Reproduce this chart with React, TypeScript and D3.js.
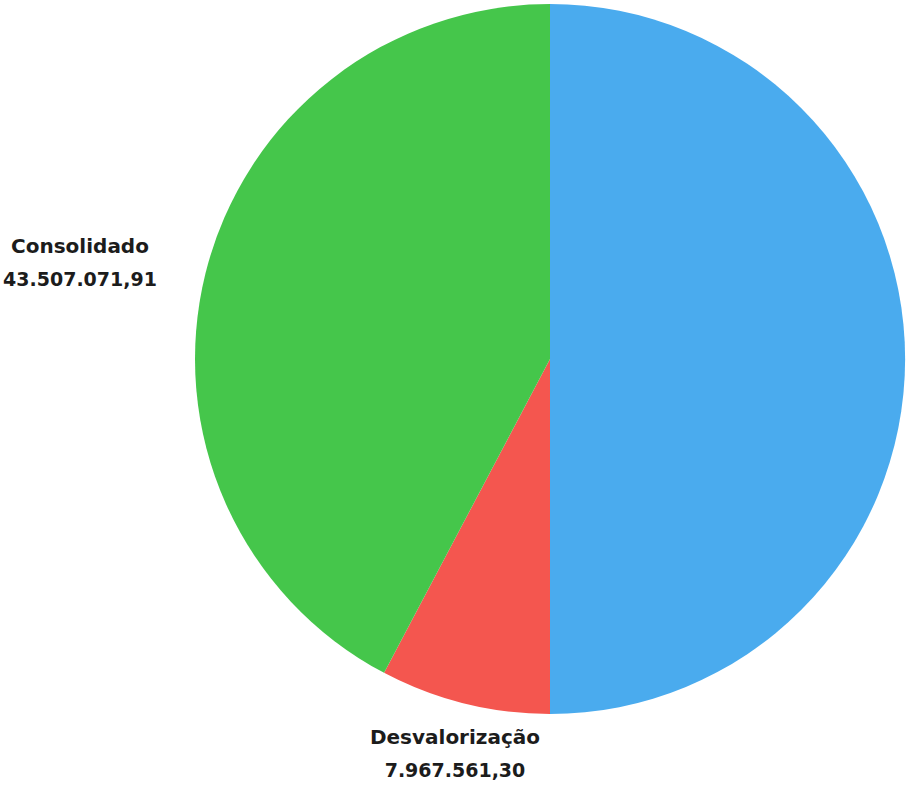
import React from "react";
import * as d3 from "d3";

const categories = ["Outros", "Desvalorização", "Consolidado"];
const values = [51474633.21, 7967561.3, 43507071.91];
const valueLabels = ["", "7.967.561,30", "43.507.071,91"];
const colors = ["#4aabee", "#f4564f", "#45c64b"];

const W = 908;
const H = 787;
const cx = 550;
const cy = 359;
const R = 355;

export default function App() {
  const data = categories.map((c, i) => ({ c, v: values[i], label: valueLabels[i], color: colors[i] }));
  const pie = d3
    .pie<any>()
    .sort(null)
    .value((d) => d.v)
    .startAngle(0)
    .endAngle(2 * Math.PI);
  const arcs = pie(data);
  const arc = d3.arc<any>().innerRadius(0).outerRadius(R);

  const labelAnchors: Record<number, [number, number]> = {
    1: [455, 744],
    2: [80, 253],
  };

  return (
    <svg
      width={W}
      height={H}
      style={{ position: "absolute", left: 0, top: 0, background: "#fff" }}
    >
      <g transform={`translate(${cx},${cy})`}>
        {arcs.map((a, i) => (
          <path key={i} d={arc(a) as string} fill={a.data.color} />
        ))}
      </g>
      {arcs.map((a, i) => {
        if (!a.data.label) return null;
        const [x, y] = labelAnchors[i];
        return (
          <text
            key={i}
            x={x}
            y={y}
            textAnchor="middle"
            fontFamily="DejaVu Sans"
            fontWeight="bold"
            fontSize={20}
            fill="#1c1c1c"
          >
            <tspan x={x}>{a.data.c}</tspan>
            <tspan x={x} dy={33} fontSize={19}>
              {a.data.label}
            </tspan>
          </text>
        );
      })}
    </svg>
  );
}
